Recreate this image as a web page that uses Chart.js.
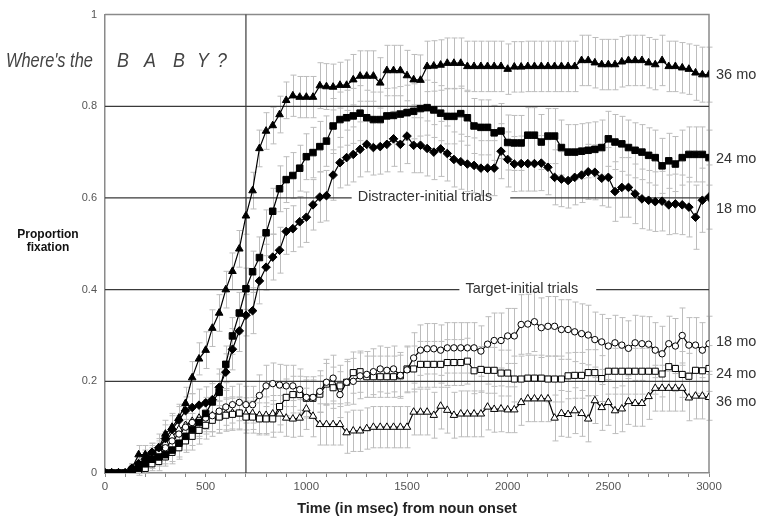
<!DOCTYPE html>
<html><head><meta charset="utf-8">
<script src="https://cdn.jsdelivr.net/npm/chart.js@4/dist/chart.umd.min.js"></script>
<style>html,body{margin:0;padding:0;background:#fff;}#wrap{width:759px;height:519px;position:relative;}</style>
</head><body><div id="wrap"><canvas id="c" width="759" height="519"></canvas></div>
<script>
// ---- DATA ----
const timesMs = [0,33,67,100,133,167,200,233,267,300,333,367,400,433,467,500,533,567,600,633,667,700,733,767,800,833,867,900,933,967,1000,1033,1067,1100,1133,1167,1200,1233,1267,1300,1333,1367,1400,1433,1467,1500,1533,1567,1600,1633,1667,1700,1733,1767,1800,1833,1867,1900,1933,1967,2000,2033,2067,2100,2133,2167,2200,2233,2267,2300,2333,2367,2400,2433,2467,2500,2533,2567,2600,2633,2667,2700,2733,2767,2800,2833,2867,2900,2933,2967,3000];

// Distracter-initial trials
const dist36 = [0,0,0,0,0.01,0.04,0.04,0.045,0.055,0.085,
0.10,0.12,0.152,0.208,0.249,0.268,0.316,0.349,0.40,0.44,
0.489,0.561,0.616,0.708,0.746,0.758,0.782,0.813,0.823,0.82,
0.82,0.82,0.845,0.843,0.842,0.846,0.846,0.858,0.866,0.866,
0.866,0.851,0.878,0.878,0.878,0.867,0.858,0.857,0.887,0.888,
0.89,0.894,0.894,0.894,0.887,0.887,0.887,0.887,0.887,0.887,
0.881,0.886,0.886,0.887,0.887,0.887,0.887,0.887,0.887,0.887,
0.887,0.90,0.90,0.895,0.891,0.891,0.891,0.897,0.90,0.90,
0.90,0.895,0.891,0.90,0.887,0.887,0.884,0.881,0.873,0.869,
0.869];
const dist24 = [0,0,0,0,0,0.01,0.02,0.03,0.035,0.04,
0.05,0.065,0.08,0.095,0.11,0.13,0.155,0.176,0.237,0.299,
0.349,0.402,0.439,0.47,0.524,0.571,0.62,0.64,0.649,0.665,
0.69,0.699,0.712,0.724,0.757,0.771,0.775,0.779,0.785,0.775,
0.771,0.771,0.779,0.78,0.783,0.786,0.789,0.795,0.797,0.792,
0.785,0.778,0.778,0.784,0.775,0.757,0.754,0.754,0.742,0.746,
0.721,0.72,0.72,0.737,0.737,0.722,0.735,0.735,0.71,0.70,
0.70,0.702,0.704,0.706,0.71,0.729,0.722,0.718,0.71,0.704,
0.70,0.693,0.688,0.67,0.681,0.674,0.688,0.695,0.695,0.695,
0.688];
const dist18 = [0,0,0,0,0.01,0.02,0.03,0.045,0.055,0.075,
0.095,0.115,0.136,0.143,0.148,0.153,0.16,0.187,0.22,0.27,
0.31,0.344,0.354,0.419,0.449,0.471,0.486,0.527,0.533,0.548,
0.558,0.585,0.602,0.605,0.65,0.677,0.688,0.695,0.706,0.717,
0.71,0.712,0.717,0.729,0.717,0.735,0.715,0.715,0.708,0.70,
0.707,0.697,0.684,0.679,0.674,0.671,0.665,0.665,0.665,0.702,
0.684,0.674,0.675,0.675,0.675,0.676,0.667,0.645,0.641,0.638,
0.645,0.65,0.657,0.656,0.643,0.645,0.614,0.623,0.623,0.609,
0.598,0.595,0.592,0.593,0.585,0.587,0.585,0.58,0.558,0.595,
0.602];
// Target-initial trials
const targ18 = [0,0,0,0,0.01,0.02,0.025,0.035,0.045,0.055,
0.07,0.085,0.10,0.11,0.115,0.12,0.125,0.135,0.144,0.149,
0.154,0.149,0.149,0.169,0.19,0.195,0.192,0.19,0.19,0.182,
0.165,0.165,0.178,0.198,0.207,0.171,0.198,0.2,0.212,0.215,
0.221,0.227,0.224,0.227,0.213,0.225,0.251,0.268,0.271,0.271,
0.268,0.273,0.273,0.273,0.273,0.273,0.266,0.281,0.289,0.289,
0.299,0.299,0.324,0.325,0.33,0.317,0.32,0.32,0.313,0.313,
0.308,0.304,0.301,0.291,0.286,0.277,0.284,0.279,0.272,0.284,
0.282,0.281,0.268,0.26,0.282,0.277,0.30,0.279,0.279,0.268,
0.282];
const targ24 = [0,0,0,0,0,0.005,0.01,0.02,0.025,0.035,
0.045,0.055,0.07,0.08,0.093,0.104,0.115,0.122,0.126,0.128,
0.131,0.122,0.122,0.118,0.118,0.118,0.145,0.165,0.171,0.171,
0.163,0.163,0.172,0.194,0.186,0.19,0.198,0.219,0.221,0.21,
0.21,0.21,0.21,0.21,0.212,0.227,0.227,0.237,0.237,0.237,
0.237,0.241,0.241,0.241,0.244,0.223,0.226,0.224,0.224,0.218,
0.218,0.205,0.205,0.207,0.207,0.207,0.205,0.205,0.205,0.212,
0.213,0.213,0.219,0.219,0.206,0.222,0.222,0.222,0.222,0.222,
0.222,0.222,0.222,0.216,0.232,0.228,0.215,0.211,0.224,0.223,
0.228];
const targ36 = [0,0,0,0,0.01,0.02,0.03,0.04,0.05,0.065,
0.08,0.095,0.104,0.113,0.12,0.125,0.125,0.122,0.129,0.131,
0.129,0.129,0.13,0.126,0.126,0.129,0.129,0.12,0.118,0.12,
0.14,0.124,0.106,0.106,0.106,0.106,0.088,0.092,0.092,0.097,
0.10,0.10,0.10,0.10,0.10,0.10,0.133,0.133,0.133,0.126,
0.146,0.137,0.126,0.129,0.129,0.129,0.129,0.144,0.139,0.14,
0.138,0.138,0.154,0.162,0.162,0.162,0.162,0.12,0.13,0.128,
0.136,0.13,0.118,0.158,0.143,0.154,0.136,0.14,0.156,0.152,
0.152,0.167,0.185,0.185,0.185,0.185,0.185,0.164,0.168,0.168,
0.165];

// Error-bar half widths (proportion)
const errDist36 = [0,0,0,0,0.01,0.02,0.02,0.02,0.03,0.03,
0.03,0.03,0.035,0.035,0.035,0.04,0.04,0.04,0.04,0.04,
0.04,0.04,0.04,0.04,0.04,0.04,0.04,0.04,0.045,0.045,
0.045,0.045,0.05,0.05,0.05,0.05,0.055,0.055,0.055,0.055,
0.055,0.055,0.055,0.055,0.055,0.055,0.055,0.055,0.055,0.055,
0.055,0.055,0.055,0.055,0.055,0.055,0.055,0.055,0.055,0.055,
0.055,0.055,0.055,0.055,0.055,0.055,0.055,0.055,0.055,0.055,
0.055,0.055,0.055,0.055,0.055,0.055,0.055,0.055,0.055,0.055,
0.055,0.055,0.055,0.055,0.055,0.055,0.055,0.055,0.06,0.06,
0.06];
const errDist24 = [0,0,0,0,0,0.01,0.01,0.02,0.02,0.02,
0.03,0.03,0.03,0.035,0.035,0.035,0.04,0.04,0.04,0.04,
0.045,0.045,0.045,0.045,0.05,0.05,0.05,0.05,0.05,0.05,
0.05,0.055,0.055,0.055,0.06,0.06,0.06,0.06,0.06,0.06,
0.06,0.06,0.06,0.06,0.06,0.06,0.06,0.06,0.06,0.06,
0.06,0.06,0.06,0.06,0.06,0.06,0.06,0.06,0.06,0.06,
0.06,0.06,0.06,0.06,0.06,0.06,0.06,0.06,0.06,0.06,
0.06,0.06,0.06,0.06,0.06,0.06,0.06,0.06,0.06,0.06,
0.06,0.06,0.06,0.06,0.06,0.06,0.06,0.06,0.06,0.06,
0.06];
const errDist18 = [0,0,0,0,0.01,0.01,0.02,0.02,0.02,0.03,
0.03,0.03,0.03,0.03,0.035,0.035,0.04,0.04,0.04,0.045,
0.045,0.045,0.05,0.05,0.05,0.05,0.05,0.05,0.05,0.055,
0.055,0.055,0.055,0.055,0.055,0.055,0.06,0.06,0.06,0.06,
0.06,0.06,0.06,0.06,0.06,0.06,0.06,0.06,0.06,0.06,
0.06,0.06,0.06,0.06,0.06,0.06,0.06,0.06,0.06,0.06,
0.06,0.06,0.06,0.06,0.06,0.06,0.06,0.06,0.06,0.06,
0.06,0.06,0.06,0.06,0.06,0.065,0.065,0.065,0.065,0.065,
0.065,0.065,0.065,0.065,0.065,0.065,0.065,0.065,0.07,0.07,
0.07];
const errTarg18 = [0,0,0,0,0.01,0.01,0.015,0.02,0.02,0.025,
0.025,0.03,0.03,0.03,0.035,0.035,0.035,0.04,0.04,0.04,
0.04,0.04,0.04,0.045,0.045,0.045,0.045,0.045,0.045,0.045,
0.045,0.045,0.045,0.05,0.05,0.05,0.05,0.05,0.05,0.05,
0.05,0.05,0.05,0.05,0.05,0.05,0.055,0.055,0.055,0.055,
0.055,0.055,0.055,0.055,0.055,0.055,0.055,0.06,0.06,0.06,
0.06,0.06,0.065,0.065,0.065,0.065,0.065,0.065,0.065,0.065,
0.065,0.065,0.065,0.06,0.06,0.06,0.06,0.06,0.06,0.06,
0.06,0.06,0.06,0.06,0.06,0.06,0.06,0.06,0.06,0.06,
0.06];
const errTarg24 = [0,0,0,0,0,0.01,0.01,0.015,0.02,0.02,
0.02,0.025,0.025,0.03,0.03,0.03,0.035,0.035,0.035,0.035,
0.035,0.035,0.035,0.035,0.035,0.04,0.04,0.04,0.04,0.04,
0.04,0.04,0.04,0.045,0.045,0.045,0.045,0.045,0.045,0.045,
0.045,0.045,0.045,0.045,0.045,0.05,0.05,0.05,0.05,0.05,
0.05,0.05,0.05,0.05,0.05,0.05,0.05,0.05,0.05,0.05,
0.05,0.05,0.05,0.05,0.05,0.05,0.05,0.05,0.05,0.05,
0.05,0.05,0.05,0.05,0.05,0.05,0.05,0.05,0.05,0.05,
0.05,0.05,0.05,0.05,0.05,0.05,0.05,0.05,0.05,0.05,
0.05];
const errTarg36 = [0,0,0,0,0.01,0.01,0.015,0.02,0.02,0.025,
0.025,0.03,0.03,0.03,0.03,0.035,0.035,0.035,0.035,0.035,
0.035,0.035,0.035,0.04,0.04,0.04,0.04,0.04,0.04,0.04,
0.045,0.045,0.045,0.045,0.045,0.045,0.045,0.045,0.045,0.045,
0.045,0.045,0.045,0.045,0.045,0.045,0.05,0.05,0.05,0.05,
0.05,0.05,0.05,0.05,0.05,0.05,0.05,0.05,0.05,0.05,
0.05,0.05,0.05,0.05,0.05,0.05,0.05,0.05,0.05,0.05,
0.05,0.05,0.05,0.05,0.05,0.05,0.05,0.05,0.05,0.05,
0.05,0.05,0.05,0.05,0.05,0.05,0.05,0.05,0.05,0.05,
0.05];

const xTicks = [0,500,1000,1500,2000,2500,3000];
const yTicks = [0,0.2,0.4,0.6,0.8,1];
const nounMarkMs = 700;
const endLabels = ['36 mo','24 mo','18 mo','18 mo','24 mo','36 mo'];
const endLabelValues = [0.869,0.686,0.575,0.285,0.217,0.155];
const sectionTitles = ['Distracter-initial trials','Target-initial trials'];
const sectionLevels = [0.6,0.4];
const sectionStartMs = [1255,1790];
const fullRefLevels = [0.2,0.8];
const babyLetters = ['B','A','B','Y','?'];

// ---- BUILD ----
const pts = arr => arr.map((v,i)=>({x:timesMs[i], y:v}));
function ds(label, vals, errs, style, radius, filled){
  return {label, data: pts(vals), errs, showLine:true, borderColor:'#000', borderWidth:1.2,
    pointStyle:style, pointRadius:radius, pointHoverRadius:radius,
    pointBackgroundColor: filled ? '#000' : '#fff', pointBorderColor:'#000', pointBorderWidth:1, tension:0};
}
const datasets = [
  ds('36 mo D', dist36, errDist36, 'triangle', 4.4, true),
  ds('24 mo D', dist24, errDist24, 'rect', 4.6, true),
  ds('18 mo D', dist18, errDist18, 'rectRot', 4.3, true),
  ds('18 mo T', targ18, errTarg18, 'circle', 3.2, false),
  ds('24 mo T', targ24, errTarg24, 'rect', 4.3, false),
  ds('36 mo T', targ36, errTarg36, 'triangle', 4.3, false)
];

const FONT = "'Liberation Sans', Arial, sans-serif";

const deco = {
  id:'deco',
  beforeDatasetsDraw(chart){
    const {ctx, chartArea:a, scales:{x,y}} = chart;
    ctx.save();
    // error bars
    ctx.strokeStyle = '#bdbdbd'; ctx.lineWidth = 1;
    chart.data.datasets.forEach(d=>{
      d.data.forEach((p,i)=>{
        const e = d.errs[i]; if(!e) return;
        const px = Math.round(x.getPixelForValue(p.x))+0.5;
        const y1 = y.getPixelForValue(p.y+e), y2 = y.getPixelForValue(p.y-e);
        ctx.beginPath();
        ctx.moveTo(px,y1); ctx.lineTo(px,y2);
        ctx.moveTo(px-3,y1); ctx.lineTo(px+3,y1);
        ctx.moveTo(px-3,y2); ctx.lineTo(px+3,y2);
        ctx.stroke();
      });
    });
    // frame top & right
    ctx.strokeStyle = '#8a8a8a'; ctx.lineWidth = 1.5;
    ctx.beginPath();
    ctx.moveTo(a.left, a.top); ctx.lineTo(a.right, a.top); ctx.lineTo(a.right, a.bottom);
    ctx.stroke();
    // reference lines
    ctx.strokeStyle = '#3a3a3a'; ctx.lineWidth = 1.2;
    fullRefLevels.forEach(v=>{
      const py = y.getPixelForValue(v);
      ctx.beginPath(); ctx.moveTo(a.left,py); ctx.lineTo(a.right,py); ctx.stroke();
    });
    const vx = x.getPixelForValue(nounMarkMs);
    ctx.beginPath(); ctx.moveTo(vx,a.top); ctx.lineTo(vx,a.bottom); ctx.stroke();
    ctx.font = '14.5px ' + FONT; ctx.fillStyle = '#333'; ctx.textBaseline = 'middle'; ctx.textAlign='left';
    sectionTitles.forEach((t,i)=>{
      const py = y.getPixelForValue(sectionLevels[i]);
      const tx = x.getPixelForValue(sectionStartMs[i]);
      const w = ctx.measureText(t).width;
      ctx.beginPath(); ctx.moveTo(a.left,py); ctx.lineTo(tx-6,py);
      ctx.moveTo(tx+w+18,py); ctx.lineTo(a.right,py); ctx.stroke();
      ctx.fillText(t, tx, py-1);
    });
    ctx.restore();
  },
  afterDraw(chart){
    const {ctx, chartArea:a, scales:{y}} = chart;
    ctx.save();
    ctx.fillStyle = '#333'; ctx.textBaseline='middle'; ctx.textAlign='left';
    ctx.font = '14.5px ' + FONT;
    endLabels.forEach((t,i)=>{
      ctx.fillText(t, a.right+7, y.getPixelForValue(endLabelValues[i]));
    });
    ctx.font = 'bold 12px ' + FONT; ctx.textAlign='center'; ctx.fillStyle='#111';
    ctx.fillText('Proportion', 48, 235);
    ctx.fillText('fixation', 48, 248);
    ctx.fillStyle = '#444'; ctx.textAlign='left';
    ctx.font = "italic 21px " + FONT;
    ctx.save(); ctx.translate(6, 61); ctx.scale(0.78, 1);
    ctx.fillText("Where's the", 0, 0);
    ctx.restore();
    const letterX = [117,144,173,197,217];
    babyLetters.forEach((L,i)=>{
      ctx.save(); ctx.translate(letterX[i], 61); ctx.scale(0.85, 1);
      ctx.fillText(L, 0, 0); ctx.restore();
    });
    ctx.restore();
  }
};

new Chart(document.getElementById('c'), {
  type:'scatter',
  data:{datasets},
  plugins:[deco],
  options:{
    responsive:false, animation:false, devicePixelRatio:1,
    layout:{padding:{top:11,right:50,left:0,bottom:0}},
    plugins:{legend:{display:false}, tooltip:{enabled:false}},
    scales:{
      x:{type:'linear', min:0, max:3000,
        afterBuildTicks(s){ const t=[]; for(let v=0; v<=3000; v+=100) t.push({value:v}); s.ticks=t; },
        afterFit(s){ s.height = 46; },
        ticks:{autoSkip:false, maxRotation:0, color:'#555', font:{size:11.5, family:FONT}, padding:3,
          callback:v => xTicks.includes(v) ? String(v) : ''},
        grid:{drawOnChartArea:false, drawTicks:true, tickLength:4, color:'#888'},
        border:{color:'#8a8a8a', width:1.5},
        title:{display:true, text:'Time (in msec) from noun onset', color:'#222',
          font:{size:14.5, weight:'bold', family:FONT}, padding:{top:0,bottom:1}}
      },
      y:{type:'linear', min:0, max:1,
        afterBuildTicks(s){ s.ticks = yTicks.map(v=>({value:v})); },
        afterFit(s){ s.width = 105; },
        ticks:{color:'#555', font:{size:11, family:FONT}, padding:8,
          callback:v => (v===0||v===1) ? String(v) : v.toFixed(1)},
        grid:{display:false, drawTicks:false},
        border:{color:'#8a8a8a', width:1.5}
      }
    }
  }
});
</script></body></html>
